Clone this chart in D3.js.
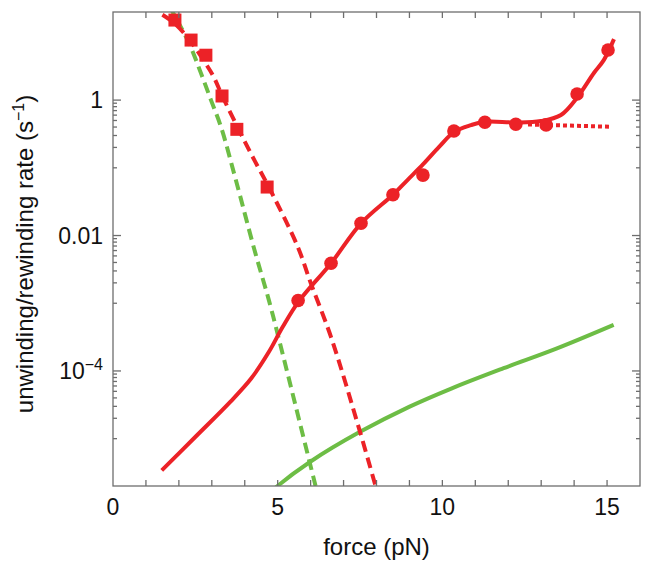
<!DOCTYPE html>
<html><head><meta charset="utf-8">
<script src="https://cdn.jsdelivr.net/npm/d3@7"></script>
<style>body{margin:0;background:#fff}svg{display:block}text{font-family:"Liberation Sans",Arial,Helvetica,sans-serif;fill:#111}</style>
</head><body><svg id="c" width="649" height="569"></svg>
<script>
// ---- data (force in pN, rate in s^-1) ----
const circleForce = [5.62, 6.62, 7.53, 8.50, 9.41, 10.35, 11.29, 12.23, 13.15, 14.09, 15.03];
const circleRate  = [1.1e-3, 3.9e-3, 0.0152, 0.040, 0.078, 0.35, 0.47, 0.44, 0.43, 1.23, 5.5];
const squareForce = [1.88, 2.37, 2.82, 3.31, 3.76, 4.68];
const squareRate  = [15.2, 7.7, 4.6, 1.15, 0.37, 0.052];
const redFitForce = [1.48, 2.49, 3.56, 4.20, 4.73, 5.15, 5.63, 6.62, 7.53, 8.50, 8.94, 9.41, 9.90, 10.36, 10.87, 11.29, 12.22, 12.99, 13.60, 14.11, 14.60, 14.90, 15.21];
const redFitRate  = [3.4e-6, 1.05e-5, 3.5e-5, 7.8e-5, 1.9e-4, 4.45e-4, 1.05e-3, 3.9e-3, 0.0151, 0.040, 0.066, 0.112, 0.204, 0.339, 0.427, 0.479, 0.468, 0.490, 0.603, 1.12, 2.51, 3.89, 7.94];
const redDashForce = [1.5, 1.9, 2.37, 2.8, 3.06, 3.3, 3.68, 4.2, 4.8, 5.61, 6.01, 6.62, 7.5, 8.0];
const redDashRate  = [18.2, 13.2, 7.2, 3.55, 2.19, 1.2, 0.50, 0.158, 0.0447, 6.8e-3, 1.95e-3, 3.16e-4, 1.26e-5, 1.78e-6];
const redDotForce = [12.6, 15.12];
const redDotRate  = [0.437, 0.404];
const greenFitForce = [4.5, 4.94, 6.0, 7.5, 8.99, 10.27, 11.86, 13.46, 15.2];
const greenFitRate  = [1.2e-6, 1.9e-6, 4.6e-6, 1.26e-5, 2.95e-5, 5.5e-5, 1.1e-4, 2.14e-4, 4.8e-4];
const greenDashForce = [1.7, 2.31, 2.67, 2.975, 3.28, 3.73, 4.3, 4.73, 5.05, 5.58, 6.15];
const greenDashRate  = [25, 6.9, 2.5, 1.0, 0.40, 0.066, 6.0e-3, 1.12e-3, 2.8e-4, 2.6e-5, 2.0e-6];
const xTicks = [0, 5, 10, 15];
const yTicks = [1, 1e-2, 1e-4];
const yTickLabels = [["1", ""], ["0.01", ""], ["10", "\u22124"]];
const xTitle = "force (pN)";
const yTitle = ["unwinding/rewinding rate (s", "\u22121", ")"];

// ---- layout ----
const L = 113, R = 640, T = 12, B = 486;
const RED = "#ec2227", GREEN = "#6dbd45", AX = "#6e6e6e";
const svg = d3.select("#c");
const x = d3.scaleLinear().domain([0, 16]).range([L, R]);
const y = d3.scaleLog().domain([2e-6, 20]).range([B, T]);

svg.append("clipPath").attr("id", "clip").append("rect")
  .attr("x", L).attr("y", T).attr("width", R - L).attr("height", B - T);

const zip = (a, b) => a.map((v, i) => [v, b[i]]);
const line = d3.line().x(d => x(d[0])).y(d => y(d[1])).curve(d3.curveCatmullRom.alpha(0.5));
const g = svg.append("g").attr("clip-path", "url(#clip)");
function path(fx, fy, color, dash) {
  g.append("path").datum(zip(fx, fy)).attr("d", line)
    .attr("fill", "none").attr("stroke", color).attr("stroke-width", 4)
    .attr("stroke-dasharray", dash || null);
}
path(greenDashForce, greenDashRate, GREEN, "11,6");
path(greenFitForce, greenFitRate, GREEN);
path(redDashForce, redDashRate, RED, "11,6");
path(redFitForce, redFitRate, RED);
path(redDotForce, redDotRate, RED, "4,3");

svg.append("g").selectAll("circle").data(zip(circleForce, circleRate)).join("circle")
  .attr("cx", d => x(d[0])).attr("cy", d => y(d[1])).attr("r", 6.8).attr("fill", RED);
svg.append("g").selectAll("rect").data(zip(squareForce, squareRate)).join("rect")
  .attr("x", d => x(d[0]) - 6.5).attr("y", d => y(d[1]) - 6.5)
  .attr("width", 13).attr("height", 13).attr("fill", RED);

// ---- axes box ----
const ax = svg.append("g").attr("stroke", AX).attr("stroke-width", 1.3);
ax.append("rect").attr("x", L).attr("y", T).attr("width", R - L).attr("height", B - T).attr("fill", "none");
d3.range(1, 16).forEach(v => {
  ax.append("line").attr("x1", x(v)).attr("x2", x(v)).attr("y1", B).attr("y2", B - 6);
  ax.append("line").attr("x1", x(v)).attr("x2", x(v)).attr("y1", T).attr("y2", T + 6);
});
yTicks.forEach(m => {
  [L, R].forEach((xx, side) => {
    const s = side ? -1 : 1;
    ax.append("line").attr("x1", xx).attr("x2", xx + s * 8).attr("y1", y(m)).attr("y2", y(m));
    for (let k = 1; k <= 9; k++) {
      const v = m * k / 10;
      if (v < 2e-6) continue;
      ax.append("line").attr("x1", xx).attr("x2", xx + s * 4).attr("y1", y(v)).attr("y2", y(v));
    }
  });
});

// tick labels
svg.append("g").selectAll("text").data(xTicks).join("text")
  .attr("x", d => x(d)).attr("y", 515).attr("text-anchor", "middle")
  .attr("font-size", 23).text(d => d);
yTicks.forEach((m, i) => {
  const t = svg.append("text").attr("x", 103).attr("y", y(m) + 8).attr("text-anchor", "end").attr("font-size", 23);
  t.append("tspan").text(yTickLabels[i][0]);
  if (yTickLabels[i][1]) t.append("tspan").attr("dy", -9).attr("font-size", 16).text(yTickLabels[i][1]);
});

// titles
svg.append("text").attr("x", (L + R) / 2).attr("y", 555).attr("text-anchor", "middle")
  .attr("font-size", 24).text(xTitle);
const yt = svg.append("text").attr("transform", `translate(33,${(T + B) / 2 + 5}) rotate(-90)`)
  .attr("text-anchor", "middle").attr("font-size", 24);
yt.append("tspan").text(yTitle[0]);
yt.append("tspan").attr("dy", -9).attr("font-size", 16).text(yTitle[1]);
yt.append("tspan").attr("dy", 9).text(yTitle[2]);
</script></body></html>
